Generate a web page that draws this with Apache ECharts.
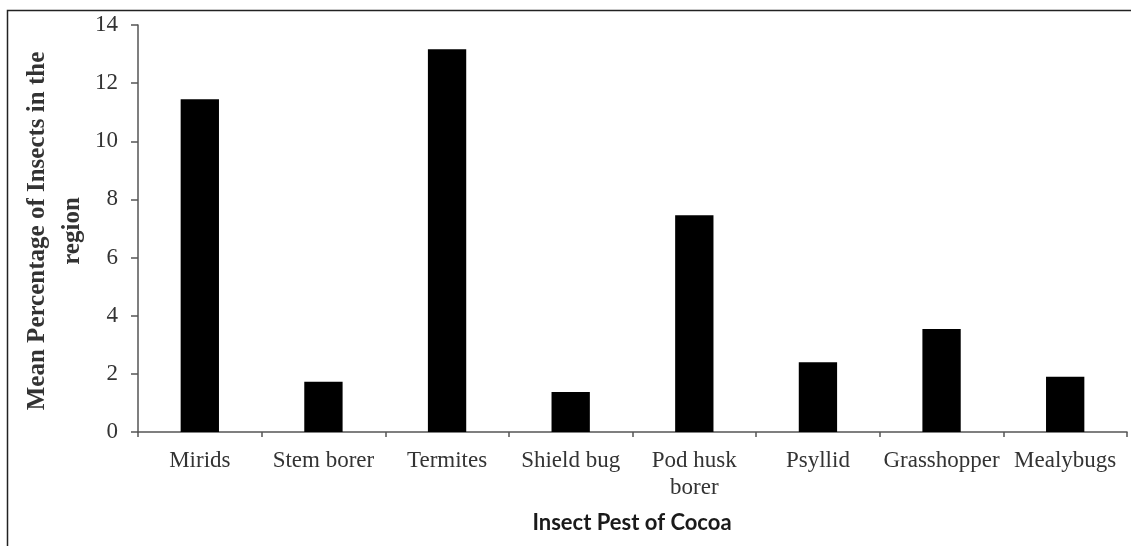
<!DOCTYPE html>
<html>
<head>
<meta charset="utf-8">
<script src="https://cdn.jsdelivr.net/npm/echarts@6/dist/echarts.min.js"></script>
<style>
html,body{margin:0;padding:0;background:#fff;}
#chart{width:1131px;height:546px;}
</style>
</head>
<body>
<div id="chart"></div>
<script>
const categories = ["Mirids", "Stem borer", "Termites", "Shield bug", "Pod husk\nborer", "Psyllid", "Grasshopper", "Mealybugs"];
const values = [11.45, 1.73, 13.17, 1.38, 7.46, 2.4, 3.54, 1.9];
const yTicks = { min: 0, max: 14, interval: 2 };
const xAxisTitle = "Insect Pest of Cocoa";
const yAxisTitle = "Mean Percentage of Insects in the\nregion";

const chart = echarts.init(document.getElementById('chart'), null, { renderer: 'canvas' });
chart.setOption({
  animation: false,
  backgroundColor: '#ffffff',
  graphic: [{
    type: 'rect',
    shape: { x: 7.5, y: 10.5, width: 1200, height: 600 },
    style: { fill: 'none', stroke: '#222', lineWidth: 1.5 },
    silent: true
  }, {
    type: 'text',
    x: 632, y: 523,
    style: {
      text: xAxisTitle,
      textAlign: 'center', textVerticalAlign: 'middle',
      font: 'bold 22px Lato, "Open Sans", sans-serif',
      fill: '#1a1a1a'
    },
    silent: true
  }, {
    type: 'text',
    x: 55, y: 231,
    rotation: Math.PI / 2,
    style: {
      text: yAxisTitle,
      textAlign: 'center', textVerticalAlign: 'middle',
      font: 'bold 25px "Liberation Serif", "DejaVu Serif", serif',
      lineHeight: 35,
      fill: '#333'
    },
    silent: true
  }],
  grid: { left: 138, right: 4, top: 25, bottom: 114, containLabel: false, outerBoundsMode: 'none' },
  xAxis: {
    type: 'category',
    data: categories,
    axisLine: { lineStyle: { color: '#555', width: 1.5 } },
    axisTick: { show: true, length: 5, lineStyle: { color: '#555', width: 1.5 } },
    axisLabel: {
      color: '#333',
      fontFamily: '"Liberation Serif", "DejaVu Serif", serif',
      fontSize: 23,
      margin: 15,
      lineHeight: 27,
      interval: 0
    }
  },
  yAxis: {
    type: 'value',
    min: yTicks.min, max: yTicks.max, interval: yTicks.interval,
    axisLine: { show: true, lineStyle: { color: '#555', width: 1.5 } },
    axisTick: { show: true, length: 7, lineStyle: { color: '#555', width: 1.5 } },
    splitLine: { show: false },
    axisLabel: {
      color: '#333',
      fontFamily: '"Liberation Serif", "DejaVu Serif", serif',
      fontSize: 23,
      margin: 20
    }
  },
  series: [{
    type: 'bar',
    data: values,
    barWidth: '31%',
    itemStyle: { color: '#000' },
    silent: true
  }]
});
</script>
</body>
</html>
